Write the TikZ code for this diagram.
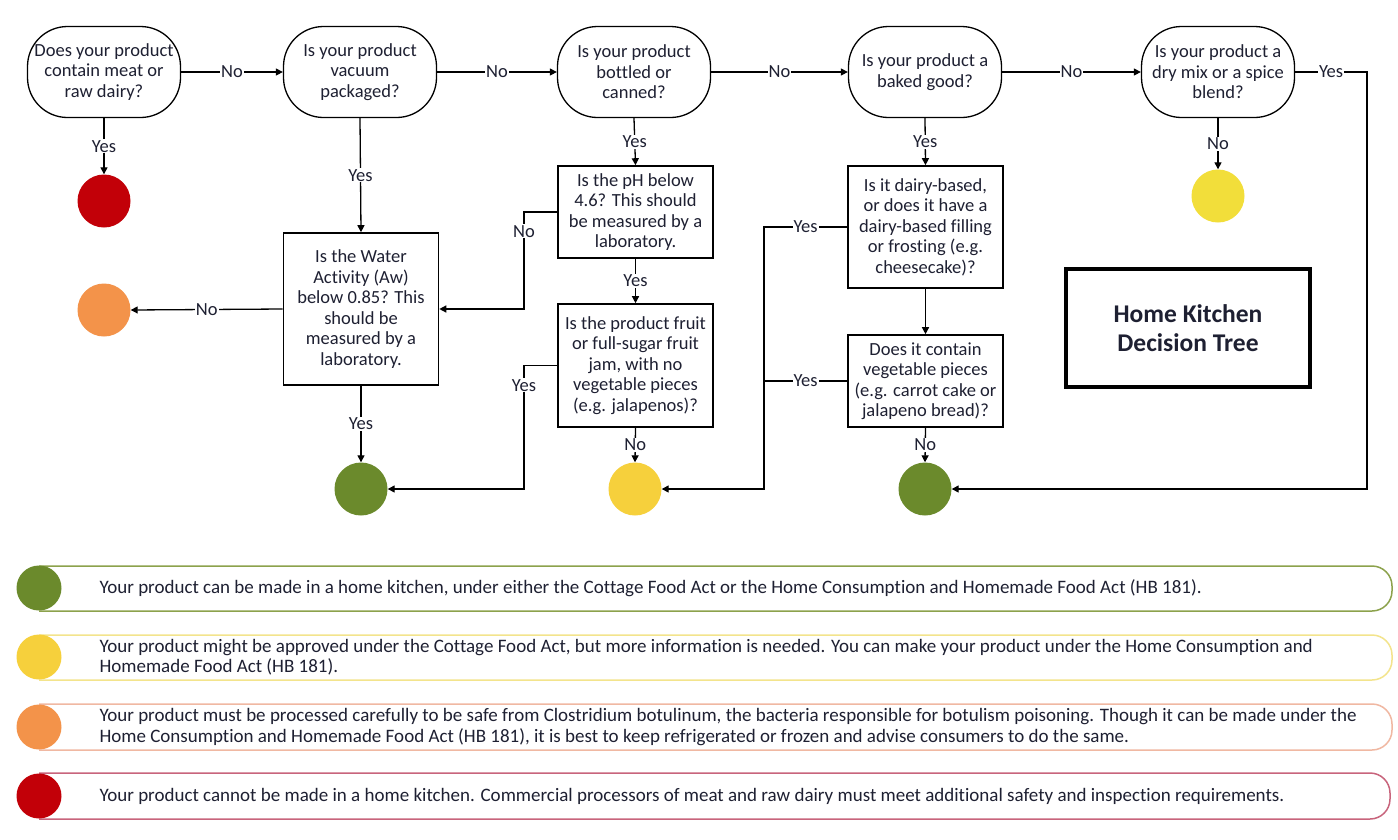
\documentclass[tikz,border=0pt]{standalone}
\usepackage{fontspec}
\setmainfont{Carlito}[Ligatures={NoCommon,NoContextual}]
\usetikzlibrary{arrows.meta,calc}
\definecolor{txt}{HTML}{1E2032}
\definecolor{cgreen}{HTML}{6B8A2C}
\definecolor{cyellow}{HTML}{F6D03C}
\definecolor{cyellowb}{HTML}{F2DE3A}
\definecolor{corange}{HTML}{F3934A}
\definecolor{cred}{HTML}{C20008}
\definecolor{lgreen}{HTML}{8CA24C}
\definecolor{lyellow}{HTML}{F3E48C}
\definecolor{lorange}{HTML}{F0B8A2}
\definecolor{lred}{HTML}{C8647C}
\begin{document}
\begin{tikzpicture}[x=1pt,y=-1pt,
  every node/.style={font=\fontsize{18.5}{20.5}\selectfont, text=txt},
  term/.style={draw, line width=1.3pt, rounded corners=40pt, minimum width=153pt, minimum height=91pt, align=center, inner sep=0pt},
  qbox/.style={draw, line width=1.6pt, minimum width=155pt, align=center, inner sep=0pt},
  dot/.style={circle, minimum size=53pt, inner sep=0pt},
  lbl/.style={fill=white, inner sep=1pt},
  conn/.style={line width=1.3pt, -{Triangle[length=7pt,width=7pt]}},
  wire/.style={line width=1.3pt},
  legtxt/.style={anchor=west, align=left, font=\fontsize{19}{20.5}\selectfont}
]
\useasboundingbox (0,0) rectangle (1398,839);
\fill[white] (0,0) rectangle (1398,839);

% terminals
\node[term] (t1) at (104,72) {Does your product\\contain meat or\\raw dairy?};
\node[term] (t2) at (360,72) {Is your product\\vacuum\\packaged?};
\node[term] (t3) at (634,72) {Is your product\\bottled or\\canned?};
\node[term] (t4) at (925,72) {Is your product a\\baked good?};
\node[term] (t5) at (1218,72) {Is your product a\\dry mix or a spice\\blend?};

% boxes
\node[qbox, minimum height=152pt] (w) at (361,309) {Is the Water\\Activity (Aw)\\below 0.85? This\\should be\\measured by a\\laboratory.};
\node[qbox, minimum height=92pt] (ph) at (635.5,212) {Is the pH below\\4.6? This should\\be measured by a\\laboratory.};
\node[qbox, minimum height=123pt] (fruit) at (635.5,365.5) {Is the product fruit\\or full-sugar fruit\\jam, with no\\vegetable pieces\\(e.g. jalapenos)?};
\node[qbox, minimum height=122pt] (dairy) at (925.5,227) {Is it dairy-based,\\or does it have a\\dairy-based filling\\or frosting (e.g.\\cheesecake)?};
\node[qbox, minimum height=92pt] (veg) at (925.5,381) {Does it contain\\vegetable pieces\\(e.g. carrot cake or\\jalapeno bread)?};

% outcome dots
\node[dot, fill=cred] (red) at (104,201) {};
\node[dot, fill=corange] (orng) at (104,310) {};
\node[dot, fill=cgreen] (g1) at (361,489) {};
\node[dot, fill=cyellow] (y1) at (635,489) {};
\node[dot, fill=cgreen] (g3) at (925,489) {};
\node[dot, fill=cyellowb] (y2) at (1218,196) {};

% title
\node[draw, line width=4pt, minimum width=244pt, minimum height=118pt, align=center, font=\fontsize{25.5}{29}\selectfont\bfseries] (title) at (1188,328) {Home Kitchen\\Decision Tree};

% helper coordinates
\coordinate (rx) at (1367,72);
\coordinate (nx) at (524,212);
\coordinate (fx) at (524,365.5);
\coordinate (dx) at (764,227);
\coordinate (vx) at (764,381);

% connectors
\draw[conn] (t1.east) -- node[lbl]{No} (t2.west);
\draw[conn] (t2.east) -- node[lbl]{No} (t3.west);
\draw[conn] (t3.east) -- node[lbl]{No} (t4.west);
\draw[conn] (t4.east) -- node[lbl]{No} (t5.west);
\draw[conn] (t5.east) -- node[lbl]{Yes} (rx) |- (g3.east);

\draw[conn] (t1.south) -- node[lbl]{Yes} (red.north);
\draw[conn] (t2.south) -- node[lbl]{Yes} (w.north);
\draw[conn] (w.west) -- node[lbl]{No} (orng.east);
\draw[conn] (w.south) -- node[lbl]{Yes} (g1.north);

\draw[conn] (t3.south) -- node[lbl]{Yes} (ph.north);
\draw[conn] (ph.west) -- (nx) -- node[lbl,pos=0.2]{No} (nx |- w.east) -- (w.east);
\draw[conn] (ph.south) -- node[lbl]{Yes} (fruit.north);
\draw[conn] (fruit.west) -- (fx) -- node[lbl,pos=0.16]{Yes} (fx |- g1.east) -- (g1.east);
\draw[conn] (fruit.south) -- node[lbl]{No} (y1.north);

\draw[conn] (t4.south) -- node[lbl]{Yes} (dairy.north);
\draw[conn] (dairy.west) -- node[lbl]{Yes} (dx) -- (dx |- y1.east) -- (y1.east);
\draw[wire] (veg.west) -- node[lbl]{Yes} (vx);
\draw[conn] (dairy.south) -- (veg.north);
\draw[conn] (veg.south) -- node[lbl]{No} (g3.north);

\draw[conn] (t5.south) -- node[lbl]{No} (y2.north);

% legend
\draw[lgreen, line width=1.5pt, rounded corners=20pt] (39,566) -- (1392,566) -- (1392,611) -- (39,611);
\draw[lyellow, line width=1.5pt, rounded corners=20pt] (39,635) -- (1392,635) -- (1392,680) -- (39,680);
\draw[lorange, line width=1.5pt, rounded corners=20pt] (39,704) -- (1392,704) -- (1392,750) -- (39,750);
\draw[lred, line width=1.5pt, rounded corners=20pt] (39,773) -- (1390,773) -- (1390,819) -- (39,819);

\node[circle, minimum size=45pt, inner sep=0pt, fill=cgreen] (lg) at (39,588) {};
\node[circle, minimum size=45pt, inner sep=0pt, fill=cyellow] (ly) at (39,657) {};
\node[circle, minimum size=45pt, inner sep=0pt, fill=corange] (lo) at (39,727) {};
\node[circle, minimum size=45pt, inner sep=0pt, fill=cred] (lr) at (39,796) {};

\node[legtxt] (tg) at (96,588) {Your product can be made in a home kitchen, under either the Cottage Food Act or the Home Consumption and Homemade Food Act (HB 181).};
\node[legtxt] (ty) at (96,657) {Your product might be approved under the Cottage Food Act, but more information is needed. You can make your product under the Home Consumption and\\Homemade Food Act (HB 181).};
\node[legtxt] (to) at (96,727) {Your product must be processed carefully to be safe from Clostridium botulinum, the bacteria responsible for botulism poisoning. Though it can be made under the\\Home Consumption and Homemade Food Act (HB 181), it is best to keep refrigerated or frozen and advise consumers to do the same.};
\node[legtxt] (tr) at (96,796) {Your product cannot be made in a home kitchen. Commercial processors of meat and raw dairy must meet additional safety and inspection requirements.};
\end{tikzpicture}
\end{document}
